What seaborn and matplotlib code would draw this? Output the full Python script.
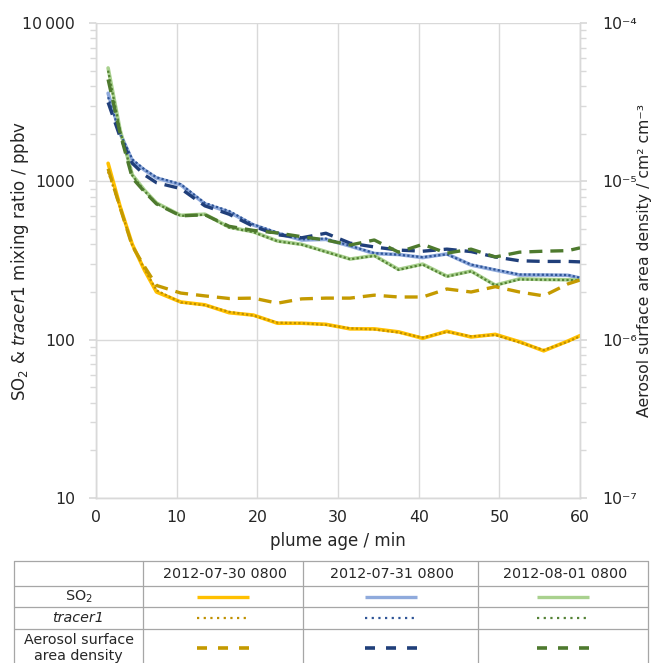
import numpy as np
import pandas as pd
import matplotlib
matplotlib.use("Agg")
import matplotlib.pyplot as plt
import seaborn as sns
from matplotlib.ticker import LogLocator, FixedLocator, FixedFormatter, NullFormatter

# ---------------- data ----------------
plume_age = [1.5, 3, 4.5, 6, 7.5, 10.5, 13.5, 16.5, 19.5, 22.5, 25.5, 28.5, 31.5,
             34.5, 37.5, 40.5, 43.5, 46.5, 49.5, 52.5, 55.5, 58.5, 60]

dates = ["2012-07-30 0800", "2012-07-31 0800", "2012-08-01 0800"]

# SO2 (ppbv)
so2_0730 = [1300, 690, 400, 275, 200, 173, 166, 148, 143, 127, 127, 125, 117,
            117, 112, 102, 113, 104, 108, 97, 85, 98, 106]
so2_0731 = [3600, 2000, 1350, 1180, 1050, 950, 720, 640, 530, 470, 426, 430, 390,
            350, 345, 330, 348, 296, 275, 256, 256, 255, 245]
so2_0801 = [5200, 2100, 1100, 880, 730, 610, 620, 514, 480, 420, 400, 360, 323,
            340, 278, 300, 252, 271, 221, 242, 240, 239, 238]

# tracer1 (ppbv)
tr_0730 = [1150, 680, 395, 280, 205, 172, 165, 150, 142, 128, 127, 124, 118,
           116, 111, 103, 112, 105, 107, 96, 86, 97, 105]
tr_0731 = [3400, 2000, 1380, 1190, 1060, 960, 730, 650, 535, 475, 430, 435, 392,
           352, 344, 332, 346, 298, 277, 258, 257, 256, 246]
tr_0801 = [5000, 2080, 1090, 870, 725, 605, 615, 510, 478, 418, 398, 358, 322,
           338, 276, 298, 250, 270, 220, 240, 239, 238, 237]

# Aerosol surface area density (cm2 cm-3)
aer_0730 = [1.20e-5, 6.8e-6, 3.9e-6, 2.9e-6, 2.2e-6, 1.97e-6, 1.89e-6, 1.82e-6,
            1.83e-6, 1.70e-6, 1.81e-6, 1.83e-6, 1.83e-6, 1.91e-6, 1.86e-6, 1.86e-6,
            2.09e-6, 2.00e-6, 2.16e-6, 2.00e-6, 1.89e-6, 2.25e-6, 2.38e-6]
aer_0731 = [3.15e-5, 1.9e-5, 1.3e-5, 1.1e-5, 9.8e-6, 9.0e-6, 7.0e-6, 6.2e-6,
            5.2e-6, 4.6e-6, 4.4e-6, 4.7e-6, 4.07e-6, 3.85e-6, 3.68e-6, 3.62e-6,
            3.73e-6, 3.60e-6, 3.33e-6, 3.15e-6, 3.12e-6, 3.12e-6, 3.10e-6]
aer_0801 = [4.4e-5, 2.0e-5, 1.05e-5, 8.6e-6, 7.2e-6, 6.05e-6, 6.15e-6, 5.2e-6,
            4.9e-6, 4.72e-6, 4.47e-6, 4.26e-6, 3.96e-6, 4.26e-6, 3.57e-6, 4.00e-6,
            3.52e-6, 3.73e-6, 3.33e-6, 3.57e-6, 3.62e-6, 3.65e-6, 3.80e-6]

so2_colors = ["#FFC000", "#8FAADC", "#A9D18E"]
tr_colors = ["#BF9000", "#2F5597", "#548235"]
aer_colors = ["#C49A00", "#203F7A", "#4E7A2E"]

left_ticks = [10, 100, 1000, 10000]
left_labels = ["10", "100", "1000", "10\u2009000"]
right_ticks = [1e-7, 1e-6, 1e-5, 1e-4]
right_labels = ["10\u207b\u2077", "10\u207b\u2076", "10\u207b\u2075", "10\u207b\u2074"]
x_ticks = [0, 10, 20, 30, 40, 50, 60]

# ---------------- figure ----------------
sns.set_theme(style="white")
plt.rcParams["font.family"] = ["DejaVu Sans"]
plt.rcParams["mathtext.fontset"] = "dejavusans"

W, H = 654, 663
fig = plt.figure(figsize=(W / 100, H / 100), dpi=100)
ax = fig.add_axes([96 / W, 1 - 498 / H, (580 - 96) / W, (498 - 23) / H])
ax2 = ax.twinx()

grid_c = "#D9D9D9"
txt_c = "#262626"
TICK_FS = 11.3
LAB_FS = 12

series_so2 = [so2_0730, so2_0731, so2_0801]
series_tr = [tr_0730, tr_0731, tr_0801]
series_aer = [aer_0730, aer_0731, aer_0801]

for i in range(3):
    df = pd.DataFrame({"age": plume_age, "so2": series_so2[i],
                       "tr": series_tr[i], "aer": series_aer[i]})
    sns.lineplot(data=df, x="age", y="so2", ax=ax, color=so2_colors[i],
                 lw=2.6, zorder=3)
    sns.lineplot(data=df, x="age", y="tr", ax=ax, color=tr_colors[i],
                 lw=1.6, linestyle=(0, (1, 1)), zorder=4)
    sns.lineplot(data=df, x="age", y="aer", ax=ax2, color=aer_colors[i],
                 lw=2.4, linestyle=(0, (3.9, 2.4)), zorder=5)

ax.set_yscale("log")
ax.set_ylim(10, 10000)
ax.set_xlim(0, 60)
ax2.set_yscale("log")
ax2.set_ylim(1e-7, 1e-4)

ax.set_xticks(x_ticks)
ax.set_xticklabels([str(t) for t in x_ticks])
ax.yaxis.set_major_locator(FixedLocator(left_ticks))
ax.yaxis.set_major_formatter(FixedFormatter(left_labels))
ax.yaxis.set_minor_locator(LogLocator(base=10, subs=np.arange(2, 10)))
ax.yaxis.set_minor_formatter(NullFormatter())
ax2.yaxis.set_major_locator(FixedLocator(right_ticks))
ax2.yaxis.set_major_formatter(FixedFormatter(right_labels))
ax2.yaxis.set_minor_locator(LogLocator(base=10, subs=np.arange(2, 10)))
ax2.yaxis.set_minor_formatter(NullFormatter())

ax.grid(True, which="major", color=grid_c, lw=1.0)
ax.set_axisbelow(True)

for a in (ax, ax2):
    for s in a.spines.values():
        s.set_color(grid_c)
        s.set_linewidth(1.0)
    a.spines["top"].set_visible(False)

ax.tick_params(axis="both", which="major", labelsize=TICK_FS, colors=txt_c,
               length=5, color=grid_c, pad=10)
ax.tick_params(axis="y", which="minor", length=4, color=grid_c, left=True)
ax.tick_params(axis="x", length=0, pad=9)
ax2.tick_params(axis="y", which="major", labelsize=TICK_FS, colors=txt_c,
                length=5, color=grid_c, pad=11)
ax2.tick_params(axis="y", which="minor", length=4, color=grid_c, right=True)

ax.set_xlabel("plume age / min", fontsize=LAB_FS, color=txt_c, labelpad=5)
ax.set_ylabel(r"SO$_2$ & $\mathit{tracer1}$ mixing ratio / ppbv",
              fontsize=LAB_FS, color=txt_c)
ax.yaxis.set_label_coords(-0.134, 0.5)
ax2.set_ylabel("Aerosol surface area density / cm² cm⁻³",
               fontsize=11.3, color=txt_c)
ax2.yaxis.set_label_coords((637 - 96) / 484, 0.5)

# ---------------- legend table ----------------
tab = fig.add_axes([0, 0, 1, 108 / H])
tab.set_xlim(0, W)
tab.set_ylim(H, 555)
tab.axis("off")
tc = "#A6A6A6"
col_x = [14, 143, 303, 478, 648]
row_y = [561, 586, 607, 629]
for y in row_y:
    tab.plot([col_x[0], col_x[-1]], [y, y], color=tc, lw=0.9)
for x in col_x:
    tab.plot([x, x], [row_y[0], H + 5], color=tc, lw=0.9)

TAB_FS = 10.3
centers = [(col_x[i] + col_x[i + 1]) / 2 for i in range(1, 4)]
for c, d in zip(centers, dates):
    tab.text(c + 2, 574, d, ha="center", va="center", fontsize=TAB_FS, color=txt_c)

lab_x = (col_x[0] + col_x[1]) / 2
tab.text(lab_x, 597, r"SO$_2$", ha="center", va="center", fontsize=TAB_FS, color=txt_c)
tab.text(lab_x, 618, "tracer1", ha="center", va="center", fontsize=TAB_FS,
         color=txt_c, style="italic")
tab.text(lab_x, 648, "Aerosol surface\narea density", ha="center", va="center",
         fontsize=TAB_FS, color=txt_c, linespacing=1.1)

for i, c in enumerate(centers):
    xs = [c - 26, c + 26]
    tab.plot(xs, [597, 597], color=so2_colors[i], lw=2.4, solid_capstyle="butt")
    tab.plot(xs, [618, 618], color=tr_colors[i], lw=1.6, linestyle=(0, (1, 2.0)))
    tab.plot(xs, [648, 648], color=aer_colors[i], lw=2.6, linestyle=(0, (2.77, 3.05)),
             dash_capstyle="butt")

fig.savefig("out.png", dpi=100)
